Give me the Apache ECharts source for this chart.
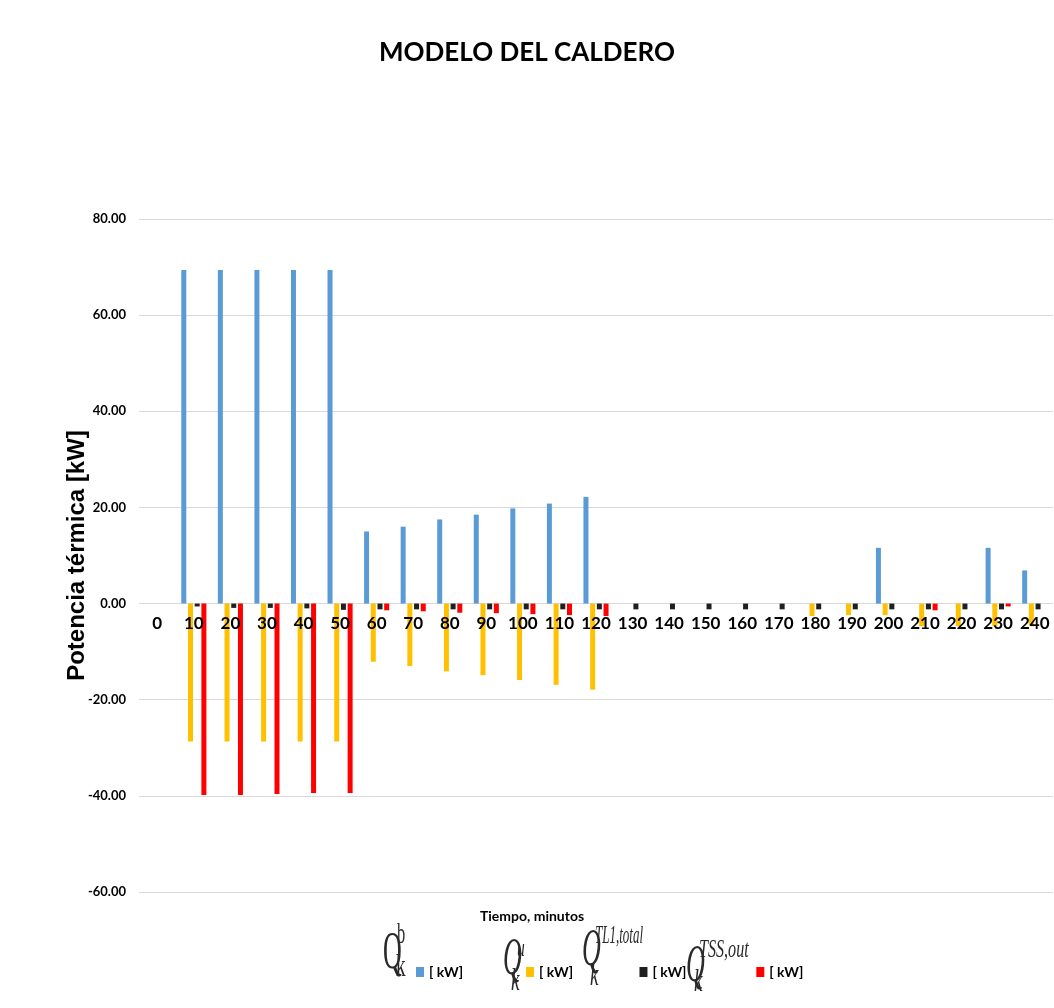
<!DOCTYPE html>
<html><head><meta charset="utf-8">
<script src="https://cdn.jsdelivr.net/npm/echarts@6/dist/echarts.min.js"></script>
<style>html,body{margin:0;padding:0;background:#fff}#c{width:1054px;height:1008px}</style>
</head><body><div id="c"></div>
<script>
const categories = ['0','10','20','30','40','50','60','70','80','90','100','110','120','130','140','150','160','170','180','190','200','210','220','230','240'];
const seriesNames = ['[ kW]', '[ kW] ', '[ kW]  ', '[ kW]   '];
const qBoiler = [0, 69.4, 69.4, 69.4, 69.4, 69.4, 15.0, 16.0, 17.5, 18.5, 19.8, 20.8, 22.2, 0, 0, 0, 0, 0, 0, 0, 11.6, 0, 0, 11.6, 6.9];
const qUse = [0, -28.7, -28.7, -28.7, -28.7, -28.7, -12.1, -13.0, -14.1, -14.9, -15.9, -16.9, -17.9, 0, 0, 0, 0, 0, -2.6, -2.4, -2.4, -4.7, -4.7, -4.7, -4.7];
const qLoss = [0, -0.6, -0.9, -0.9, -1.0, -1.3, -1.2, -1.2, -1.2, -1.2, -1.2, -1.2, -1.2, -1.2, -1.2, -1.2, -1.2, -1.2, -1.2, -1.2, -1.2, -1.2, -1.2, -1.2, -1.2];
const qTssOut = [0, -39.8, -39.8, -39.6, -39.4, -39.4, -1.4, -1.6, -1.9, -2.0, -2.2, -2.4, -2.6, 0, 0, 0, 0, 0, 0, 0, 0, -1.4, 0, -0.6, 0];
const yTicks = {min: -60, max: 80, interval: 20};

const FONT = "Lato,'Liberation Sans',sans-serif";
const SERIF = "'Liberation Serif','DejaVu Serif',serif";
const colors = ['#5B9BD5', '#FFC000', '#1F1F1F', '#FF0000'];

// the category axis sits on the value 0 line: shift it up from the grid bottom
const GRID_TOP = 219, GRID_BOTTOM = 116, CHART_H = 1008;
const plotH = CHART_H - GRID_TOP - GRID_BOTTOM;
const zeroOffset = -plotH * (0 - yTicks.min) / (yTicks.max - yTicks.min);

function mkSeries(name, data, color) {
  return {name: name, type: 'bar', data: data, barWidth: 5, barGap: '34%',
    itemStyle: {color: color}, emphasis: {disabled: true}};
}

function formula(x, y, sup, supDx, supDy, supSize, supScale, subDx, subDy, italic) {
  const it = italic ? 'italic ' : '';
  return [
    {type: 'text', x: x, y: y, scaleX: 0.5, style: {text: 'Q', font: it + '52px ' + SERIF, fill: '#2a2a2a'}},
    {type: 'text', x: x + supDx, y: y + supDy, scaleX: supScale, style: {text: sup, font: it + supSize + 'px ' + SERIF, fill: '#2a2a2a'}},
    {type: 'text', x: x + subDx, y: y + subDy, scaleX: 0.6, style: {text: 'k', font: it + '32px ' + SERIF, fill: '#2a2a2a'}}
  ];
}

const chart = echarts.init(document.getElementById('c'), null, {renderer: 'canvas'});
chart.setOption({
  backgroundColor: '#fff',
  animation: false,
  title: {text: 'MODELO DEL CALDERO', left: 'center', top: 35,
    textStyle: {fontFamily: FONT, fontWeight: 'bold', fontSize: 26, color: '#000'}},
  grid: {left: 139, right: 1, top: GRID_TOP, bottom: GRID_BOTTOM, containLabel: false, outerBoundsMode: 'none'},
  legend: {left: 411, top: 960, itemWidth: 8, itemHeight: 10, itemGap: 63, icon: 'rect',
    data: seriesNames,
    textStyle: {fontFamily: FONT, fontWeight: 'bold', fontSize: 14, color: '#000'}},
  xAxis: {type: 'category', data: categories, position: 'bottom', offset: zeroOffset, z: 10,
    name: 'Tiempo, minutos', nameLocation: 'middle', nameGap: 306, nameMoveOverlap: false,
    nameTextStyle: {fontFamily: FONT, fontWeight: 'bold', fontSize: 14, color: '#000', padding: [0, 128, 0, 0]},
    axisLine: {show: false, onZero: false}, axisTick: {show: false},
    axisLabel: {interval: 0, fontFamily: FONT, fontWeight: 'bold', fontSize: 17, color: '#000', margin: 11}},
  yAxis: {type: 'value', min: yTicks.min, max: yTicks.max, interval: yTicks.interval,
    name: 'Potencia térmica [kW]', nameLocation: 'middle', nameGap: 50, nameMoveOverlap: false,
    nameTextStyle: {fontFamily: "'Liberation Sans',sans-serif", fontWeight: 'bold', fontSize: 24, color: '#000'},
    axisLine: {show: false}, axisTick: {show: false},
    splitLine: {lineStyle: {color: '#D9D9D9', width: 1}},
    axisLabel: {fontFamily: FONT, fontWeight: 'bold', fontSize: 13, color: '#000', margin: 13,
      formatter: v => v.toFixed(2)}},
  series: [
    mkSeries(seriesNames[0], qBoiler, colors[0]),
    mkSeries(seriesNames[1], qUse, colors[1]),
    mkSeries(seriesNames[2], qLoss, colors[2]),
    mkSeries(seriesNames[3], qTssOut, colors[3])
  ],
  graphic: [].concat(
    formula(383, 928, 'b', 14, -8, 30, 0.55, 13, 24, false),
    formula(503, 934, 'u', 14, 2, 26, 0.6, 8, 32, true),
    formula(582, 925, 'TL1,total', 13, -2, 26, 0.5, 8, 36, true),
    formula(686, 941, 'TSS,out', 13, -4, 26, 0.62, 8, 26, true)
  )
});
</script></body></html>
